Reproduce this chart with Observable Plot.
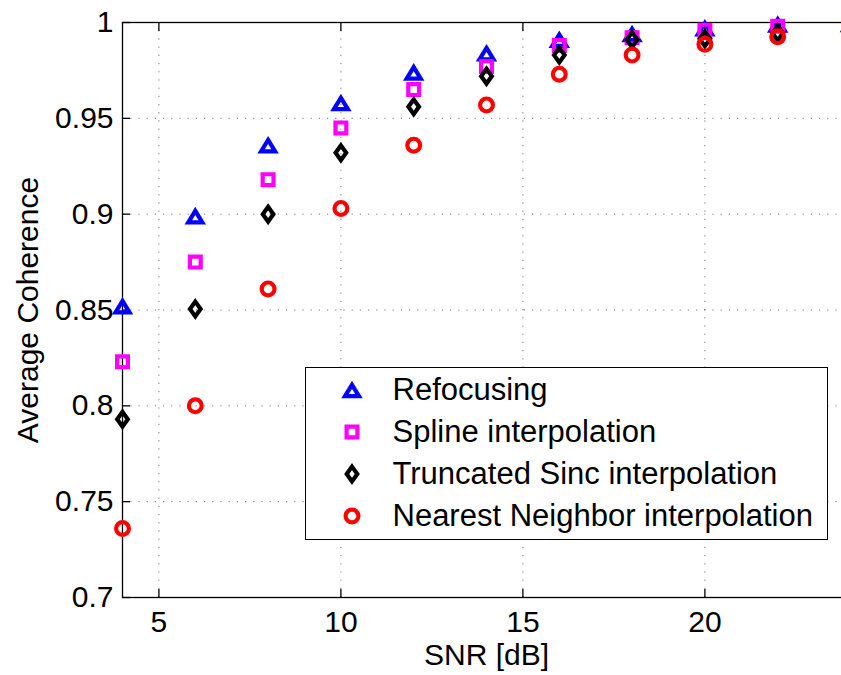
<!DOCTYPE html>
<html>
<head>
<meta charset="utf-8">
<script src="https://cdn.jsdelivr.net/npm/d3@7"></script>
<script src="https://cdn.jsdelivr.net/npm/@observablehq/plot@0.6"></script>
<style>
  html, body { margin: 0; padding: 0; background: #fff; overflow: hidden; }
  #chart { position: relative; width: 850px; height: 675px; font-family: "Liberation Sans", Arial, Helvetica, sans-serif; }
  #chart svg { display: block; }
  #legend { position: absolute; left: 305px; top: 367px; width: 521px; height: 171px;
            border: 1.5px solid #000; background: #fff; box-sizing: content-box; }
  #legend .row { position: relative; height: 42px; }
  #legend .row:first-child { margin-top: 1px; }
  #legend .row svg { position: absolute; left: 30.5px; top: 6px; width: 30px; height: 30px; overflow: visible; }
  #legend .row span { position: absolute; left: 86.5px; top: 0; line-height: 42px; font-size: 31px; color: #000; white-space: nowrap; }
</style>
</head>
<body>
<div id="chart"></div>
<script>
// SNR levels (dB) and average coherence for each resampling method
const snr = [4, 6, 8, 10, 12, 14, 16, 18, 20, 22, 24];
const refocusing = [0.852, 0.899, 0.936, 0.958, 0.974, 0.984, 0.991, 0.994, 0.997, 0.999, 0.9993];
const spline     = [0.823, 0.875, 0.918, 0.945, 0.965, 0.977, 0.988, 0.992, 0.996, 0.998, null];
const sinc       = [0.793, 0.8505, 0.900, 0.932, 0.956, 0.972, 0.983, 0.991, 0.9915, 0.9945, null];
const nearest    = [0.736, 0.800, 0.861, 0.903, 0.936, 0.957, 0.973, 0.983, 0.9886, 0.9926, null];

const seriesNames = ["Refocusing", "Spline interpolation", "Truncated Sinc interpolation", "Nearest Neighbor interpolation"];
const seriesColors = ["#0000ff", "#ff00ff", "#000000", "#ff0000"];

const xTicks = [5, 10, 15, 20];
const yTicks = [0.7, 0.75, 0.8, 0.85, 0.9, 0.95, 1];

// Hollow marker shapes; geometry scales with the dot radius (reference radius 7)
const unit = size => Math.sqrt(size / Math.PI) / 7;
const triangleUp = { draw(ctx, size) { const s = unit(size);
  ctx.moveTo(0, -5.2 * s); ctx.lineTo(7 * s, 6.2 * s); ctx.lineTo(-7 * s, 6.2 * s); ctx.closePath(); } };
const squareBox = { draw(ctx, size) { const s = unit(size);
  ctx.moveTo(-5.4 * s, -5.4 * s); ctx.lineTo(5.4 * s, -5.4 * s); ctx.lineTo(5.4 * s, 5.4 * s); ctx.lineTo(-5.4 * s, 5.4 * s); ctx.closePath(); } };
const diamondTall = { draw(ctx, size) { const s = unit(size);
  ctx.moveTo(0, -7.4 * s); ctx.lineTo(5.3 * s, 0); ctx.lineTo(0, 7.4 * s); ctx.lineTo(-5.3 * s, 0); ctx.closePath(); } };
const ring = { draw(ctx, size) { const s = unit(size);
  ctx.moveTo(6.4 * s, 0); ctx.arc(0, 0, 6.4 * s, 0, 2 * Math.PI); ctx.closePath(); } };
const seriesSymbols = [triangleUp, squareBox, diamondTall, ring];
const seriesValues = [refocusing, spline, sinc, nearest];
const markerStroke = 4.2;

const rowsFor = values => snr.map((x, i) => ({ snr: x, value: values[i] })).filter(d => d.value != null);

const gridStyle = { stroke: "#000", strokeOpacity: 0.55, strokeWidth: 1, strokeDasharray: "1.2,7" };

const chart = Plot.plot({
  width: 850,
  height: 675,
  marginLeft: 122,
  marginRight: 0,
  marginTop: 22,
  marginBottom: 78,
  style: { fontFamily: "'Liberation Sans', Arial, Helvetica, sans-serif", fontSize: "30px", color: "#000", background: "#fff" },
  x: { domain: [4, 24] },
  y: { domain: [0.7, 1] },
  marks: [
    Plot.gridX(xTicks, gridStyle),
    Plot.gridY(yTicks.slice(1, -1), gridStyle),
    Plot.axisX(xTicks, { anchor: "bottom", tickSize: -8, tickPadding: 21, label: null, strokeWidth: 1.3 }),
    Plot.axisX(xTicks, { anchor: "top", tickSize: -8, tickFormat: () => "", label: null, strokeWidth: 1.3 }),
    Plot.axisY(yTicks, { anchor: "left", tickSize: -8, tickPadding: 17, label: null, strokeWidth: 1.3,
                         tickFormat: d => String(+d.toFixed(2)) }),
    Plot.frame({ stroke: "#000", strokeWidth: 1.3 }),
    ...seriesValues.map((values, i) => Plot.dot(rowsFor(values), {
      x: "snr", y: "value", r: 7, symbol: seriesSymbols[i],
      stroke: seriesColors[i], strokeWidth: markerStroke, fill: "none", strokeLinejoin: "miter"
    })),
    Plot.text(["SNR [dB]"], { frameAnchor: "bottom", dy: 58, lineAnchor: "middle", fill: "#000" }),
    Plot.text(["Average Coherence"], { frameAnchor: "left", rotate: -90, dx: -94, lineAnchor: "middle",
                                       textAnchor: "middle", fill: "#000" })
  ]
});

const root = document.getElementById("chart");
root.appendChild(chart);

// Legend box
const legend = document.createElement("div");
legend.id = "legend";
seriesNames.forEach((name, i) => {
  const row = document.createElement("div");
  row.className = "row";
  const path = d3.symbol(seriesSymbols[i], Math.PI * 49)();
  row.innerHTML = `<svg viewBox="-15 -15 30 30"><path d="${path}" fill="none" stroke="${seriesColors[i]}" stroke-width="${markerStroke}" stroke-linejoin="miter"></path></svg><span></span>`;
  row.querySelector("span").textContent = name;
  legend.appendChild(row);
});
root.appendChild(legend);
</script>
</body>
</html>
